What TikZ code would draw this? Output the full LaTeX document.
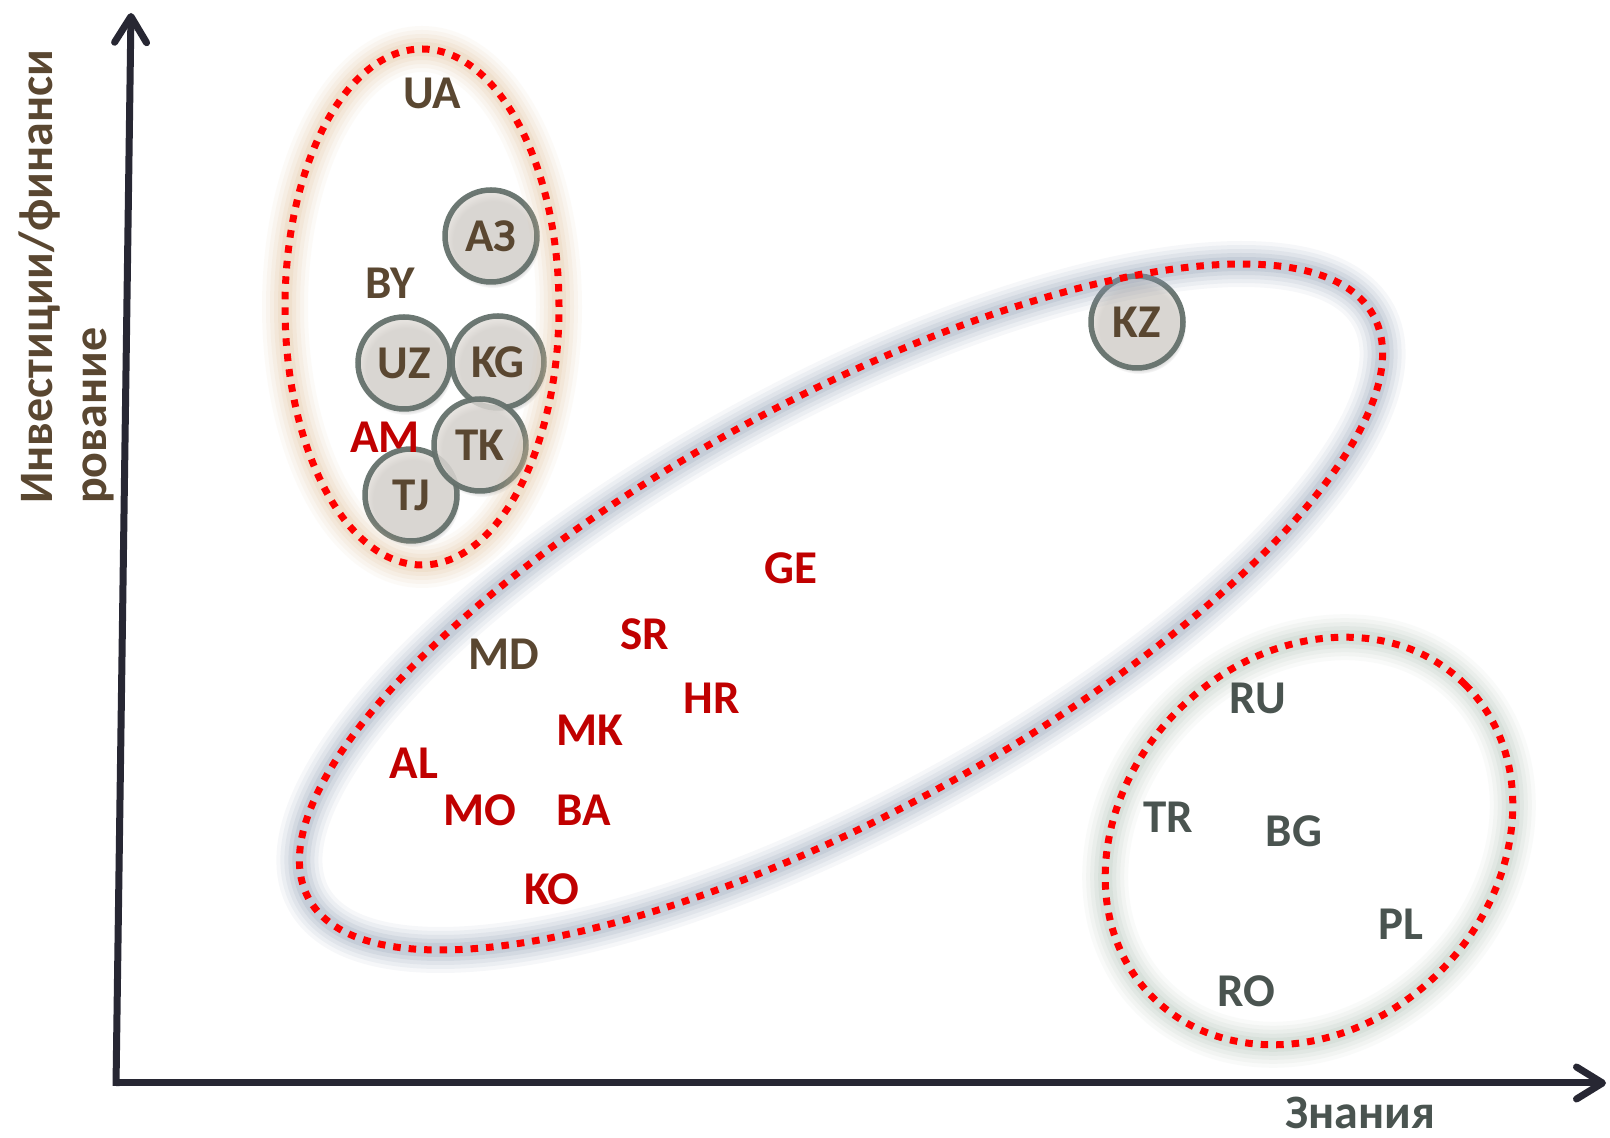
\documentclass[tikz,border=0pt]{standalone}
\usepackage{fontspec}
\setmainfont{Carlito}
\usetikzlibrary{arrows.meta,shadows}
\definecolor{axisC}{HTML}{272733}
\definecolor{txtBrown}{HTML}{5A4731}
\definecolor{txtRed}{HTML}{C00000}
\definecolor{txtGrey}{HTML}{4A5450}
\definecolor{circF}{HTML}{DFDBD6}
\definecolor{circB}{HTML}{65716C}
\definecolor{glowO}{HTML}{E2C29A}
\definecolor{glowB}{HTML}{8797B0}
\definecolor{glowG}{HTML}{AFC1B4}
\definecolor{dotR}{HTML}{FF0000}
\tikzset{
  axisline/.style={draw=axisC, line width=7pt, -{Straight Barb[length=26pt,width=32pt,round]}},
  dotline/.style={draw=dotR, line width=7pt, dash pattern=on 7.5pt off 8pt},
  cnode/.style={circle, minimum size=92pt, inner sep=0pt, line width=5.5pt,
    draw=circB, fill=circF, fill opacity=0.8, draw opacity=0.95, text opacity=1,
    text=txtBrown, font=\fontsize{47}{50}\selectfont\bfseries,
    circular drop shadow={shadow xshift=2pt, shadow yshift=-5pt, opacity=0.45, shadow scale=1.02}},
  lab/.style={inner sep=0pt, font=\fontsize{47}{50}\selectfont\bfseries},
  lbrown/.style={lab, text=txtBrown},
  lred/.style={lab, text=txtRed},
  lgrey/.style={lab, text=txtGrey},
  axtitle/.style={inner sep=0pt, font=\fontsize{48}{52}\selectfont\bfseries}
}
\begin{document}
\begin{tikzpicture}[x=1pt,y=1pt]
\useasboundingbox (0,0) rectangle (1610,1138);
\fill[white] (0,0) rectangle (1610,1138);

% axes
\coordinate (o) at (116,55);
\coordinate (ybot) at (116,52);
\coordinate (ytip) at (131,1125);
\coordinate (xbot) at (113,55);
\coordinate (xtip) at (1606,55);
\draw[axisline] (ybot) -- (ytip);
\draw[axisline] (xbot) -- (xtip);

% circles
\node[cnode] (A3) at (491,902) {AЗ};
\node[cnode] (UZ) at (404,775) {UZ};
\node[cnode] (KG) at (498,776) {KG};
\node[cnode] (TJ) at (411,643) {TJ};
\node[cnode] (TK) at (480,693) {TK};
\node[cnode] (KZ) at (1137,816) {KZ};

% glows
\foreach \w/\o in {46/0.07,38/0.09,30/0.11,22/0.14,14/0.18}{
  \draw[glowO, line width=\w pt, opacity=\o] (422,831) ellipse [x radius=137pt, y radius=258pt];
  \draw[glowB, line width=\w pt, opacity=\o, rotate around={28.7:(841,531)}] (841,531) ellipse [x radius=607pt, y radius=206pt];
  \draw[glowG, line width=\w pt, opacity=\o, rotate around={45:(1309,297)}] (1309,297) ellipse [x radius=221pt, y radius=185pt];
}
% dotted outlines
\draw[dotline] (422,831) ellipse [x radius=137pt, y radius=258pt];
\draw[dotline, rotate around={28.7:(841,531)}] (841,531) ellipse [x radius=607pt, y radius=206pt];
\draw[dotline, rotate around={45:(1309,297)}] (1309,297) ellipse [x radius=221pt, y radius=185pt];

% labels
\node[lbrown] (UA) at (432,1045) {UA};
\node[lbrown] (BY) at (390,855) {BY};
\node[lred] (AM) at (385,701) {AM};
\node[lred] (GE) at (791,570) {GE};
\node[lred] (SR) at (645,504) {SR};
\node[lbrown] (MD) at (504,484) {MD};
\node[lred] (HR) at (712,440) {HR};
\node[lred] (MK) at (590,408) {MK};
\node[lred] (AL) at (414,375) {AL};
\node[lred] (MO) at (480,328) {MO};
\node[lred] (BA) at (584,328) {BA};
\node[lred] (KO) at (552,249) {KO};
\node[lgrey] (RU) at (1258,440) {RU};
\node[lgrey] (TR) at (1168,321) {TR};
\node[lgrey] (BG) at (1294,307) {BG};
\node[lgrey] (PL) at (1401,214) {PL};
\node[lgrey] (RO) at (1246,147) {RO};

% axis titles
\node[axtitle, text=txtGrey, anchor=base] (xlab) at (1360,9) {Знания};
\node[axtitle, text=txtBrown, rotate=90, anchor=base west] (ylab1) at (52,634) {Инвестиции/финанси};
\node[axtitle, text=txtBrown, rotate=90, anchor=base west] (ylab2) at (106,634) {рование};
\end{tikzpicture}
\end{document}
